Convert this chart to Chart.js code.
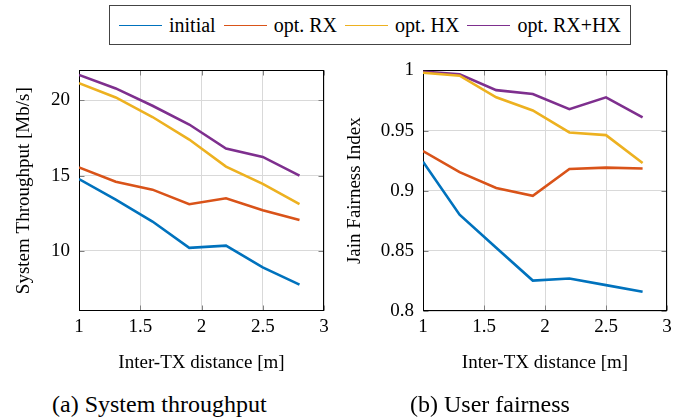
<!DOCTYPE html>
<html>
<head>
<meta charset="utf-8">
<script src="https://cdn.jsdelivr.net/npm/chart.js@4/dist/chart.umd.min.js"></script>
<style>
    body { margin: 0; width: 692px; height: 420px; background: #fff; position: relative; overflow: hidden;
           font-family: "Liberation Serif", "DejaVu Serif", serif; color: #000; }
    .plot { position: absolute; top: 50px; }
    #legend { position: absolute; left: 109px; top: 5px; height: 40px; border: 1px solid #444; box-sizing: border-box;
              display: flex; align-items: center; padding: 0 9px; font-size: 20px; white-space: nowrap; }
    #legend .swatch { display: inline-block; width: 43px; border-top: 1.5px solid; margin-right: 7px; }
    #legend .label { margin-right: 8px; }
    #legend .label:last-child { margin-right: 0; }
    .caption { position: absolute; top: 391px; font-size: 24px; white-space: nowrap; }
</style>
</head>
<body>
<div id="legend"></div>
<canvas id="throughput" class="plot" style="left:0" width="346" height="330"></canvas>
<canvas id="fairness" class="plot" style="left:340px" width="346" height="330"></canvas>
<div class="caption" style="left:52px">(a) System throughput</div>
<div class="caption" style="left:410px">(b) User fairness</div>
<script>
const distances = [1, 1.3, 1.6, 1.9, 2.2, 2.5, 2.8];
const seriesNames = ['initial', 'opt. RX', 'opt. HX', 'opt. RX+HX'];
const seriesColors = ['#0072BD', '#D95319', '#EDB120', '#7E2F8E'];

const throughputInitial = [14.77, 13.4, 11.95, 10.2, 10.35, 8.9, 7.75];
const throughputOptRx = [15.55, 14.6, 14.07, 13.1, 13.5, 12.7, 12.05];
const throughputOptHx = [21.15, 20.2, 18.9, 17.4, 15.6, 14.45, 13.1];
const throughputOptRxHx = [21.7, 20.8, 19.65, 18.4, 16.8, 16.25, 15.0];

const fairnessInitial = [0.924, 0.880, 0.8526, 0.8253, 0.827, 0.8215, 0.816];
const fairnessOptRx = [0.933, 0.9154, 0.9023, 0.8957, 0.918, 0.9192, 0.9184];
const fairnessOptHx = [0.998, 0.9956, 0.9776, 0.9667, 0.9484, 0.9462, 0.923];
const fairnessOptRxHx = [0.999, 0.9967, 0.9836, 0.9804, 0.9678, 0.9776, 0.961];

const xTicks = [1, 1.5, 2, 2.5, 3];
const throughputTicks = [10, 15, 20];
const fairnessTicks = [0.8, 0.85, 0.9, 0.95, 1];

const serif = '"Liberation Serif", "DejaVu Serif", serif';

// legend in html, shared by both plots
const legend = document.getElementById('legend');
seriesNames.forEach((name, i) => {
    const sw = document.createElement('span');
    sw.className = 'swatch';
    sw.style.borderTopColor = seriesColors[i];
    const lb = document.createElement('span');
    lb.className = 'label';
    lb.textContent = name;
    legend.appendChild(sw);
    legend.appendChild(lb);
});

// box around the plot area + small inward ticks, pgfplots style
const framePlugin = {
    id: 'frame',
    beforeDatasetsDraw(chart) {
        const {ctx, chartArea: a, scales} = chart;
        const l = Math.round(a.left) + 0.5, r = Math.round(a.right) - 0.5;
        const t = Math.round(a.top) + 0.5, b = Math.round(a.bottom) - 0.5;
        ctx.save();
        ctx.strokeStyle = '#808080';
        ctx.lineWidth = 1;
        ctx.beginPath();
        scales.x.ticks.forEach(tk => {
            const px = Math.round(scales.x.getPixelForValue(tk.value)) + 0.5;
            ctx.moveTo(px, b); ctx.lineTo(px, b - 5);
            ctx.moveTo(px, t); ctx.lineTo(px, t + 5);
        });
        scales.y.ticks.forEach(tk => {
            const py = Math.round(scales.y.getPixelForValue(tk.value)) + 0.5;
            ctx.moveTo(l, py); ctx.lineTo(l + 5, py);
            ctx.moveTo(r, py); ctx.lineTo(r - 5, py);
        });
        ctx.stroke();
        ctx.strokeStyle = '#000';
        ctx.strokeRect(l, t, r - l, b - t);
        ctx.restore();
    }
};

const fmt = v => String(+Number(v).toFixed(2));

function makeChart(id, values, yMin, yMax, yTicks, yTitle, yWidth, titlePad, padRight) {
    return new Chart(document.getElementById(id), {
        type: 'line',
        data: {
            datasets: values.map((vals, i) => ({
                label: seriesNames[i],
                data: distances.map((d, j) => ({x: d, y: vals[j]})),
                borderColor: seriesColors[i],
                backgroundColor: seriesColors[i],
                borderWidth: 2.6,
                pointRadius: 0,
                tension: 0,
            }))
        },
        options: {
            responsive: false,
            animation: false,
            layout: {padding: {top: 16, right: padRight, bottom: 6, left: 0}},
            plugins: {legend: {display: false}, tooltip: {enabled: false}},
            scales: {
                x: {
                    type: 'linear',
                    min: 1,
                    max: 3,
                    afterBuildTicks: s => { s.ticks = xTicks.map(v => ({value: v})); },
                    afterFit: s => { s.height = 63; },
                    grid: {color: '#d9d9d9', drawTicks: false},
                    border: {display: false},
                    ticks: {color: '#000', padding: 5, font: {family: serif, size: 19}, callback: fmt},
                    title: {display: true, text: 'Inter-TX distance [m]', color: '#000',
                            font: {family: serif, size: 19}, padding: {top: 0, bottom: 0}}
                },
                y: {
                    min: yMin,
                    max: yMax,
                    afterBuildTicks: s => { s.ticks = yTicks.map(v => ({value: v})); },
                    afterFit: s => { s.width = yWidth; },
                    grid: {color: '#d9d9d9', drawTicks: false},
                    border: {display: false},
                    ticks: {color: '#000', padding: 9, font: {family: serif, size: 19}, callback: fmt},
                    title: {display: true, text: yTitle, color: '#000',
                            font: {family: serif, size: 19}, padding: {top: titlePad, bottom: 0}}
                }
            }
        },
        plugins: [framePlugin]
    });
}

makeChart('throughput', [throughputInitial, throughputOptRx, throughputOptHx, throughputOptRxHx],
    6, 22, throughputTicks, 'System Throughput [Mb/s]', 79, 13, 22);
makeChart('fairness', [fairnessInitial, fairnessOptRx, fairnessOptHx, fairnessOptRxHx],
    0.8, 1, fairnessTicks, 'Jain Fairness Index', 83, 4, 19);
</script>
</body>
</html>
